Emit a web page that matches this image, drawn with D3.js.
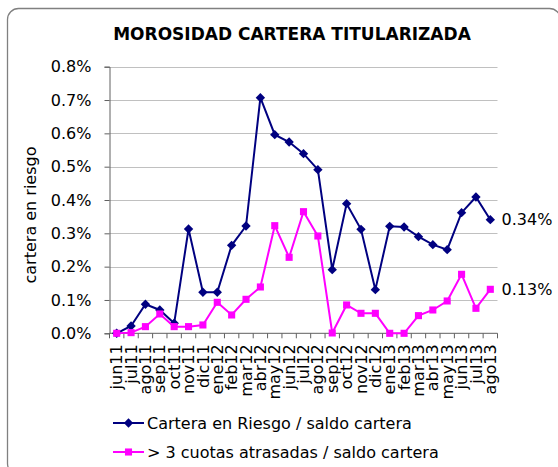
<!DOCTYPE html>
<html lang="es">
<head>
  <meta charset="UTF-8">
  <title>Morosidad cartera titularizada</title>
  <style>
    body { margin: 0; background: #fff; }
    text { font-family: "DejaVu Sans", Verdana, sans-serif; fill: #000; }
  </style>
</head>
<body>
  <svg id="container" width="558" height="467"></svg>
</body>
<script src="https://cdn.jsdelivr.net/npm/d3@7"></script>
<script>
  // months jun11 .. ago13
  let months = ["jun11","jul11","ago11","sep11","oct11","nov11","dic11",
                "ene12","feb12","mar12","abr12","may12","jun12","jul12","ago12","sep12","oct12","nov12","dic12",
                "ene13","feb13","mar13","abr13","may13","jun13","jul13","ago13"]
  // percentages
  let riesgo = [0.000,0.022,0.087,0.070,0.030,0.313,0.123,0.123,0.264,0.322,0.707,0.596,0.574,
                0.539,0.491,0.191,0.389,0.312,0.131,0.321,0.319,0.290,0.266,0.251,0.362,0.409,0.341]
  let atrasadas = [0.000,0.002,0.020,0.058,0.020,0.020,0.025,0.093,0.055,0.102,0.139,0.323,0.228,
                   0.365,0.292,0.001,0.085,0.060,0.060,0.000,0.000,0.053,0.070,0.097,0.177,0.075,0.132]
  let yTicks = [0,0.1,0.2,0.3,0.4,0.5,0.6,0.7,0.8]
  let seriesNames = ["Cartera en Riesgo / saldo cartera", "> 3 cuotas atrasadas / saldo cartera"]
  let colors = ["#000080", "#ff00ff"]

  let svg = d3.select("#container")

  // outer frame
  svg.append("rect")
     .attr("x", 7.5).attr("y", 8.5).attr("width", 553).attr("height", 466)
     .attr("rx", 11).attr("fill", "none").attr("stroke", "#808080").attr("stroke-width", 1.3)

  svg.append("text").text("MOROSIDAD CARTERA TITULARIZADA")
     .attr("x", 292).attr("y", 39.5).attr("text-anchor", "middle")
     .attr("font-weight", "bold").attr("font-size", 17)

  let pLeft = 109.5, pRight = 497.5, pTop = 66.7, pBottom = 333.3

  let x = d3.scaleBand().domain(months).range([pLeft, pRight]).padding(0)
  let y = d3.scaleLinear().domain([0, 0.8]).range([pBottom, pTop])
  let cx = d => x(d) + x.bandwidth() / 2

  // gridlines
  svg.append("g").selectAll("line").data(yTicks.slice(1)).enter().append("line")
     .attr("x1", pLeft).attr("x2", pRight)
     .attr("y1", d => Math.round(y(d)) + 0.5).attr("y2", d => Math.round(y(d)) + 0.5)
     .attr("stroke", "#c0c0c0").attr("stroke-width", 1)

  // y axis
  let yAxis = svg.append("g").attr("transform", `translate(${pLeft},0)`)
     .call(d3.axisLeft(y).tickValues(yTicks).tickSize(5).tickPadding(13).tickFormat(d => d.toFixed(1) + "%"))
  yAxis.select(".domain").attr("stroke", "#606060")
  yAxis.selectAll(".tick line").attr("stroke", "#606060")
  yAxis.selectAll("text").attr("font-size", 16).attr("font-family", '"DejaVu Sans", sans-serif')

  // x axis
  svg.append("line").attr("x1", pLeft).attr("x2", pRight).attr("y1", pBottom).attr("y2", pBottom)
     .attr("stroke", "#606060")
  svg.append("g").selectAll("line").data(months.concat(["end"])).enter().append("line")
     .attr("x1", (d, i) => pLeft + i * x.step()).attr("x2", (d, i) => pLeft + i * x.step())
     .attr("y1", pBottom).attr("y2", pBottom + 5).attr("stroke", "#606060")
  svg.append("g").selectAll("text").data(months).enter().append("text")
     .text(d => d)
     .attr("transform", d => `translate(${cx(d)},${pBottom + 11}) rotate(-90)`)
     .attr("text-anchor", "end").attr("dy", "0.35em").attr("font-size", 16)

  svg.append("text").text("cartera en riesgo")
     .attr("transform", "translate(30,215) rotate(-90)")
     .attr("text-anchor", "middle").attr("dy", "0.35em").attr("font-size", 16)

  let line = d3.line().x((d, i) => cx(months[i])).y(d => y(d))
  let diamond = d3.symbol().type(d3.symbolDiamond2).size(56)
  let square = d3.symbol().type(d3.symbolSquare2).size(64)
  let allSeries = [riesgo, atrasadas]
  let markers = [diamond, square]

  allSeries.forEach((vals, s) => {
    svg.append("path").datum(vals).attr("d", line)
       .attr("fill", "none").attr("stroke", colors[s]).attr("stroke-width", 2)
    svg.append("g").selectAll("path").data(vals).enter().append("path")
       .attr("d", markers[s])
       .attr("transform", (d, i) => `translate(${cx(months[i])},${y(d)})`)
       .attr("fill", colors[s])
    let last = vals[vals.length - 1]
    svg.append("text").text(last.toFixed(2) + "%")
       .attr("x", pRight + 4).attr("y", y(last)).attr("dy", "0.35em").attr("font-size", 16)
  })

  // legend
  let legend = svg.append("g").selectAll("g").data(seriesNames).enter().append("g")
     .attr("transform", (d, i) => `translate(113,${423 + i * 29})`)
  legend.append("line").attr("x1", 0).attr("x2", 31).attr("stroke", (d, i) => colors[i]).attr("stroke-width", 2)
  legend.append("path").attr("d", (d, i) => markers[i]()).attr("transform", "translate(15.5,0)")
     .attr("fill", (d, i) => colors[i])
  legend.append("text").text(d => d).attr("x", 34).attr("dy", "0.35em").attr("font-size", 16)
</script>
</html>
